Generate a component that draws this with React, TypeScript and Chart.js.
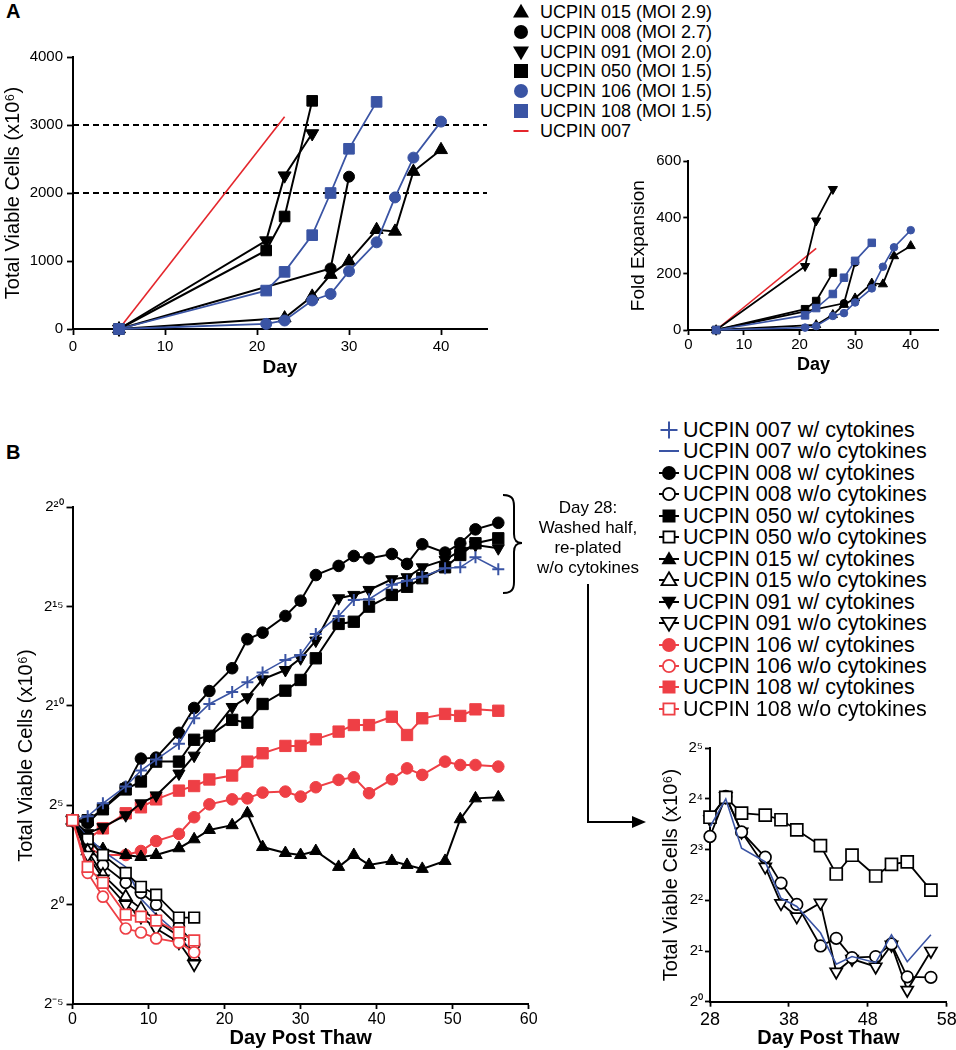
import React, { useEffect, useRef } from 'react';
import { Chart, registerables } from 'chart.js';

Chart.register(...registerables);

const FONT = '"Liberation Sans", Arial, Helvetica, sans-serif';
const INK = '#000000';
const BLUE = '#3a54a4';
const RED_A = '#e4262c';
const RED_B = '#ee3f45';

// ---------------- Panel A : total viable cells (x10^6) vs day ----------------
const aDays015 = [5, 23, 26, 28, 30, 33, 35, 37, 40];
const aCells015 = [0, 160, 480, 800, 995, 1460, 1435, 2315, 2635];
const aDays008 = [5, 28, 30];
const aCells008 = [0, 890, 2240];
const aDays091 = [5, 21, 23, 26];
const aCells091 = [0, 1300, 2255, 2875];
const aDays050 = [5, 21, 23, 26];
const aCells050 = [0, 1155, 1655, 3355];
const aDays106 = [5, 21, 23, 26, 28, 30, 33, 35, 37, 40];
const aCells106 = [0, 75, 125, 420, 515, 850, 1275, 1935, 2520, 3050];
const aDays108 = [5, 21, 23, 26, 28, 30, 33];
const aCells108 = [0, 565, 840, 1380, 2000, 2650, 3340];
const aDays007 = [5, 23];
const aCells007 = [0, 3120];
const aThresholds = [2000, 3000];
const aDayTicks = [0, 10, 20, 30, 40];
const aCellTicks = [0, 1000, 2000, 3000, 4000];

// ---------------- Panel A inset : fold expansion ----------------
const fFold015 = [0, 18, 54, 90, 113, 166, 163, 263, 299];
const fFold008 = [0, 95, 240];
const fFold091 = [0, 227, 389, 501];
const fFold050 = [0, 74, 103, 204];
const fFold106 = [0, 8.5, 14, 50, 60, 98, 148, 225, 294, 355];
const fFold108 = [0, 52, 78, 128, 186, 246, 310];
const fFold007 = [0, 290];
const foldTicks = [0, 200, 400, 600];

const aLegend = [
  'UCPIN 015 (MOI 2.9)',
  'UCPIN 008 (MOI 2.7)',
  'UCPIN 091 (MOI 2.0)',
  'UCPIN 050 (MOI 1.5)',
  'UCPIN 106 (MOI 1.5)',
  'UCPIN 108 (MOI 1.5)',
  'UCPIN 007',
];

// ---------------- Panel B : log2 of total viable cells (x10^6) ----------------
const bDays = [0, 2, 4, 7, 9, 11, 14, 16, 18, 21, 23, 25, 28, 30, 32, 35, 37, 39, 42, 44, 46, 49, 51, 53, 56];
const bLog007w = [4.25, 4.45, 5.1, 5.95, 6.75, 7.3, 8.1, 9.38, 10.1, 10.7, 11.2, 11.68, 12.32, 12.57, 13.62, 14.53, 15.34, 15.37, 16.1, 16.3, 16.5, 16.93, 16.98, 17.48, 16.88];
const bLog008w = [4.25, 4.1, 4.85, 5.9, 7.35, 7.4, 8.65, 9.9, 10.75, 11.9, 13.36, 13.69, 14.53, 15.3, 16.59, 17.05, 17.55, 17.43, 17.65, 17.15, 18.14, 17.72, 18.19, 18.89, 19.22];
const bLog050w = [4.25, 4.25, 4.8, 5.8, 6.2, 7.2, 7.2, 8.3, 8.5, 9.3, 9.16, 10.1, 10.77, 11.31, 12.4, 14.13, 14.24, 15.0, 15.59, 16.0, 16.43, 16.98, 17.6, 18.19, 18.44];
const bLog015w = [4.25, 3.2, 2.8, 2.5, 2.4, 2.5, 2.84, 3.29, 3.76, 4.0, 4.6, 2.9, 2.6, 2.5, 2.7, 1.9, 2.5, 2.0, 2.2, 2.0, 1.8, 2.2, 4.3, 5.35, 5.4];
const bLog091w = [4.25, 3.6, 3.9, 4.5, 5.1, 5.5, 6.6, 7.5, 8.5, 9.95, 10.44, 11.34, 11.81, 12.4, 13.29, 15.42, 15.59, 15.84, 16.38, 16.48, 16.98, 17.35, 17.82, 18.1, 17.94];
const bLog106w = [4.25, 2.85, 2.5, 2.5, 2.7, 3.2, 3.56, 4.4, 5.05, 5.3, 5.35, 5.64, 5.69, 5.44, 5.91, 6.28, 6.41, 5.61, 6.31, 6.86, 6.53, 7.2, 7.03, 7.03, 6.95];
const bLog108w = [4.25, 3.3, 3.84, 4.6, 4.9, 5.3, 5.74, 5.97, 6.3, 6.5, 7.2, 7.62, 7.99, 7.99, 8.32, 8.71, 9.04, 9.04, 9.46, 8.54, 9.38, 9.6, 9.5, 9.83, 9.76];

const bDaysEarly = [0, 2, 4, 7, 9, 11, 14, 16];
const bLog007wo = [4.25, 3.4, 2.7, 1.9, 0.3, -0.5, -1.5, -2.6];
const bLog008wo = [4.25, 3.0, 2.0, 1.1, 0.6, 0.0, -1.1, -2.0];
const bLog050wo = [4.25, 3.3, 2.5, 1.6, 0.9, 0.5, -0.65, -0.65];
const bLog015wo = [4.25, 2.7, 1.5, 0.4, -0.2, -0.8, -1.6, -2.6];
const bLog091wo = [4.25, 2.5, 1.3, 0.0, -0.6, -1.2, -1.9, -3.0];
const bLog106wo = [4.25, 1.6, 0.4, -1.2, -1.4, -1.7, -1.9, -2.4];
const bLog108wo = [4.25, 1.9, 1.1, -0.5, -0.6, -0.8, -1.4, -1.8];

const bDayTicks = [0, 10, 20, 30, 40, 50, 60];
const bExpTicks = [-5, 0, 5, 10, 15, 20];

// ---------------- Panel B inset : after day 28 re-plating w/o cytokines ----------------
const iDays = [28, 30, 32, 35, 37, 39, 42, 44, 46, 49, 51, 53, 56];
const iLog050wo = [3.64, 4.03, 3.72, 3.68, 3.59, 3.39, 3.08, 2.52, 2.89, 2.48, 2.71, 2.76, 2.2];
const iLog008wo = [3.26, 4.05, 3.35, 2.85, 2.34, 1.92, 1.1, 1.25, 0.87, 0.89, 1.14, 0.49, 0.48];
const iLog091wo = [3.6, 4.05, 3.35, 2.66, 1.94, 1.68, 1.95, 0.59, 0.84, 0.69, 1.12, 0.23, 1.0];
const iLog007wo = [3.45, 4.0, 3.03, 2.76, 2.04, 1.88, 1.36, 0.74, 0.89, 0.77, 1.32, 0.79, 1.32];
const iDayTicks = [28, 38, 48, 58];
const iExpTicks = [0, 1, 2, 3, 4, 5];

const bLegend = [
  'UCPIN 007 w/ cytokines',
  'UCPIN 007 w/o cytokines',
  'UCPIN 008 w/ cytokines',
  'UCPIN 008 w/o cytokines',
  'UCPIN 050 w/ cytokines',
  'UCPIN 050 w/o cytokines',
  'UCPIN 015 w/ cytokines',
  'UCPIN 015 w/o cytokines',
  'UCPIN 091 w/ cytokines',
  'UCPIN 091 w/o cytokines',
  'UCPIN 106 w/ cytokines',
  'UCPIN 106 w/o cytokines',
  'UCPIN 108 w/ cytokines',
  'UCPIN 108 w/o cytokines',
];
const noteLines = ['Day 28:', 'Washed half,', 're-plated', 'w/o cytokines'];

// ---------------- helpers ----------------
const SUP: Record<string, string> = {
  '-': '\u207B', '0': '\u2070', '1': '\u00B9', '2': '\u00B2', '3': '\u00B3', '4': '\u2074',
  '5': '\u2075', '6': '\u2076', '7': '\u2077', '8': '\u2078', '9': '\u2079',
};
const pow2 = (v: number) => '2' + String(v).split('').map((ch) => SUP[ch] || ch).join('');
const Y_TITLE = 'Total Viable Cells (x10\u2076)';

type Sty = { color: string; shape: string; r: number; open?: boolean; rot?: number; lw?: number; dash?: number[]; pbw?: number };

function ds(label: string, xs: number[], ys: number[], s: Sty) {
  const none = s.shape === 'none';
  return {
    label,
    data: xs.map((x, i) => ({ x, y: ys[i] })),
    borderColor: s.color,
    backgroundColor: s.open ? '#ffffff' : s.color,
    borderWidth: s.lw ?? 2,
    borderDash: s.dash ?? [],
    pointStyle: none ? 'circle' : s.shape,
    pointRadius: none ? 0 : s.r,
    pointRotation: s.rot ?? 0,
    pointBackgroundColor: s.open ? '#ffffff' : s.color,
    pointBorderColor: s.color,
    pointBorderWidth: s.pbw ?? (s.open ? 1.7 : 1),
    tension: 0,
    fill: false,
    clip: false,
  };
}

type AxisOpt = {
  min: number; max: number; ticks: number[]; fmt?: (v: number) => string;
  size: number; tl: number; pad: number; fit: number; horiz: boolean;
  title: string; titleSize: number; bold: boolean; titlePad: number;
};

function axis(o: AxisOpt) {
  return {
    type: 'linear',
    min: o.min,
    max: o.max,
    afterBuildTicks: (s: any) => { s.ticks = o.ticks.map((v) => ({ value: v })); },
    afterFit: (s: any) => { if (o.horiz) s.height = o.fit; else s.width = o.fit; },
    ticks: {
      color: INK,
      font: { family: FONT, size: o.size },
      padding: o.pad,
      autoSkip: false,
      maxRotation: 0,
      callback: (v: any) => (o.fmt ? o.fmt(Number(v)) : String(v)),
    },
    grid: { drawOnChartArea: false, drawTicks: true, tickLength: o.tl, tickWidth: 1.8, tickColor: INK, color: INK },
    border: { display: true, color: INK, width: 2 },
    title: {
      display: true,
      text: o.title,
      color: INK,
      font: { family: FONT, size: o.titleSize, weight: o.bold ? 'bold' : 'normal' },
      padding: o.horiz ? { top: 0, bottom: o.titlePad } : { top: o.titlePad, bottom: 0 },
    },
  };
}

function config(datasets: any[], pad: any, x: any, y: any) {
  return {
    type: 'line',
    data: { datasets },
    options: {
      responsive: false,
      animation: false,
      events: [],
      layout: { padding: pad },
      plugins: { legend: { display: false }, tooltip: { enabled: false }, title: { display: false } },
      scales: { x, y },
    },
  };
}

type Box = { left: number; top: number; width: number; height: number };

function ChartBox({ box, make }: { box: Box; make: () => any }) {
  const ref = useRef<HTMLCanvasElement>(null);
  useEffect(() => {
    const chart = new Chart(ref.current as HTMLCanvasElement, make());
    return () => chart.destroy();
  }, []);
  return (
    <div style={{ position: 'absolute', left: box.left, top: box.top, width: box.width, height: box.height }}>
      <canvas ref={ref} width={box.width} height={box.height} style={{ display: 'block', width: box.width, height: box.height }} />
    </div>
  );
}

// ---------------- chart builders ----------------
function makeA() {
  const datasets = [
    ds('UCPIN 108', aDays108, aCells108, { color: BLUE, shape: 'rect', r: 7.5, lw: 1.8 }),
    ds('UCPIN 106', aDays106, aCells106, { color: BLUE, shape: 'circle', r: 5.5, lw: 1.8 }),
    ds('UCPIN 015', aDays015, aCells015, { color: INK, shape: 'triangle', r: 7.5, lw: 2 }),
    ds('UCPIN 008', aDays008, aCells008, { color: INK, shape: 'circle', r: 5.5, lw: 2 }),
    ds('UCPIN 091', aDays091, aCells091, { color: INK, shape: 'triangle', r: 7.5, rot: 180, lw: 2 }),
    ds('UCPIN 050', aDays050, aCells050, { color: INK, shape: 'rect', r: 7.5, lw: 2 }),
    ds('UCPIN 007', aDays007, aCells007, { color: RED_A, shape: 'none', r: 0, lw: 1.6 }),
    ...aThresholds.map((t) => ds('threshold ' + t, [0, 45], [t, t], { color: INK, shape: 'none', r: 0, lw: 2, dash: [6, 4] })),
  ];
  return config(
    datasets,
    { left: 0, right: 15, top: 17, bottom: 0 },
    axis({ min: 0, max: 45, ticks: aDayTicks, size: 15, tl: 6, pad: 3, fit: 51, horiz: true, title: 'Day', titleSize: 19, bold: true, titlePad: 1 }),
    axis({ min: 0, max: 4000, ticks: aCellTicks, size: 15, tl: 6, pad: 4, fit: 73, horiz: false, title: Y_TITLE, titleSize: 20, bold: false, titlePad: 1 }),
  );
}

function makeFold() {
  const datasets = [
    ds('UCPIN 108', aDays108, fFold108, { color: BLUE, shape: 'rect', r: 5.3, lw: 1.6 }),
    ds('UCPIN 106', aDays106, fFold106, { color: BLUE, shape: 'circle', r: 3.8, lw: 1.6 }),
    ds('UCPIN 015', aDays015, fFold015, { color: INK, shape: 'triangle', r: 5.3, lw: 1.8 }),
    ds('UCPIN 008', aDays008, fFold008, { color: INK, shape: 'circle', r: 3.8, lw: 1.8 }),
    ds('UCPIN 091', aDays091, fFold091, { color: INK, shape: 'triangle', r: 5.3, rot: 180, lw: 1.8 }),
    ds('UCPIN 050', aDays050, fFold050, { color: INK, shape: 'rect', r: 5.3, lw: 1.8 }),
    ds('UCPIN 007', aDays007, fFold007, { color: RED_A, shape: 'none', r: 0, lw: 1.6 }),
  ];
  return config(
    datasets,
    { left: 0, right: 17.5, top: 11.3, bottom: 0 },
    axis({ min: 0, max: 45, ticks: aDayTicks, size: 15, tl: 5, pad: 1, fit: 60, horiz: true, title: 'Day', titleSize: 18, bold: true, titlePad: 14 }),
    axis({ min: 0, max: 600, ticks: foldTicks, size: 15, tl: 5, pad: 2, fit: 88.3, horiz: false, title: 'Fold Expansion', titleSize: 19, bold: false, titlePad: 27.6 }),
  );
}

function makeB() {
  const datasets = [
    ds('UCPIN 108 w/o cytokines', bDaysEarly, bLog108wo, { color: RED_B, shape: 'rect', r: 7.5, open: true, lw: 1.8 }),
    ds('UCPIN 106 w/o cytokines', bDaysEarly, bLog106wo, { color: RED_B, shape: 'circle', r: 5.5, open: true, lw: 1.8 }),
    ds('UCPIN 091 w/o cytokines', bDaysEarly, bLog091wo, { color: INK, shape: 'triangle', r: 7, rot: 180, open: true, lw: 1.8 }),
    ds('UCPIN 015 w/o cytokines', bDaysEarly, bLog015wo, { color: INK, shape: 'triangle', r: 7, open: true, lw: 1.8 }),
    ds('UCPIN 050 w/o cytokines', bDaysEarly, bLog050wo, { color: INK, shape: 'rect', r: 7.5, open: true, lw: 1.8 }),
    ds('UCPIN 008 w/o cytokines', bDaysEarly, bLog008wo, { color: INK, shape: 'circle', r: 5.5, open: true, lw: 1.8 }),
    ds('UCPIN 007 w/o cytokines', bDaysEarly, bLog007wo, { color: BLUE, shape: 'none', r: 0, lw: 1.6 }),
    ds('UCPIN 007 w/ cytokines', bDays, bLog007w, { color: BLUE, shape: 'cross', r: 6, lw: 1.6, pbw: 2 }),
    ds('UCPIN 008 w/ cytokines', bDays, bLog008w, { color: INK, shape: 'circle', r: 5.8, lw: 2 }),
    ds('UCPIN 050 w/ cytokines', bDays, bLog050w, { color: INK, shape: 'rect', r: 8, lw: 2 }),
    ds('UCPIN 091 w/ cytokines', bDays, bLog091w, { color: INK, shape: 'triangle', r: 7, rot: 180, lw: 2 }),
    ds('UCPIN 015 w/ cytokines', bDays, bLog015w, { color: INK, shape: 'triangle', r: 7, lw: 2 }),
    ds('UCPIN 106 w/ cytokines', bDays, bLog106w, { color: RED_B, shape: 'circle', r: 5.8, lw: 2 }),
    ds('UCPIN 108 w/ cytokines', bDays, bLog108w, { color: RED_B, shape: 'rect', r: 8, lw: 2 }),
  ];
  return config(
    datasets,
    { left: 0, right: 20.3, top: 37.3, bottom: 0 },
    axis({ min: 0, max: 60, ticks: bDayTicks, size: 16, tl: 5, pad: 1, fit: 46, horiz: true, title: 'Day Post Thaw', titleSize: 20, bold: true, titlePad: 0 }),
    axis({ min: -5, max: 20, ticks: bExpTicks, fmt: pow2, size: 15, tl: 6, pad: 3, fit: 72.5, horiz: false, title: Y_TITLE, titleSize: 20, bold: false, titlePad: 14 }),
  );
}

function makeInset() {
  const datasets = [
    ds('UCPIN 007 w/o cytokines', iDays, iLog007wo, { color: BLUE, shape: 'none', r: 0, lw: 1.6 }),
    ds('UCPIN 050 w/o cytokines', iDays, iLog050wo, { color: INK, shape: 'rect', r: 8.5, open: true, lw: 1.8 }),
    ds('UCPIN 008 w/o cytokines', iDays, iLog008wo, { color: INK, shape: 'circle', r: 5.8, open: true, lw: 1.8 }),
    ds('UCPIN 091 w/o cytokines', iDays, iLog091wo, { color: INK, shape: 'triangle', r: 7, rot: 180, open: true, lw: 1.8 }),
  ];
  return config(
    datasets,
    { left: 0, right: 29.3, top: 28.3, bottom: 0 },
    axis({ min: 28, max: 58, ticks: iDayTicks, size: 18, tl: 5, pad: 2.5, fit: 48.3, horiz: true, title: 'Day Post Thaw', titleSize: 20, bold: true, titlePad: 0 }),
    axis({ min: 0, max: 5, ticks: iExpTicks, fmt: pow2, size: 15, tl: 5, pad: 2, fit: 90, horiz: false, title: Y_TITLE, titleSize: 20, bold: false, titlePad: 39 }),
  );
}

// ---------------- legend glyphs ----------------
function Glyph(p: { shape: string; color: string; open?: boolean; size: number; stub?: number; cx: number; cy: number }) {
  const W = 30;
  const H = 24;
  const c = W / 2;
  const m = H / 2;
  const fill = p.open ? '#ffffff' : p.color;
  const sw = p.open ? 1.8 : 0;
  const s = p.size;
  let mark: any = null;
  if (p.shape === 'circle') {
    mark = <circle cx={c} cy={m} r={s / 2 - sw / 2} fill={fill} stroke={p.color} strokeWidth={sw} />;
  } else if (p.shape === 'square') {
    mark = <rect x={c - s / 2 + sw / 2} y={m - s / 2 + sw / 2} width={s - sw} height={s - sw} fill={fill} stroke={p.color} strokeWidth={sw} />;
  } else if (p.shape === 'triUp' || p.shape === 'triDown') {
    const h = s * 0.866;
    const d = p.shape === 'triUp' ? 1 : -1;
    const apex = m - d * h * 0.6;
    const base = m + d * h * 0.4;
    mark = <polygon points={`${c},${apex} ${c + s / 2},${base} ${c - s / 2},${base}`} fill={fill} stroke={p.color} strokeWidth={sw} />;
  } else if (p.shape === 'plus') {
    mark = (
      <g stroke={p.color} strokeWidth={2}>
        <line x1={c - s / 2} y1={m} x2={c + s / 2} y2={m} />
        <line x1={c} y1={m - s / 2} x2={c} y2={m + s / 2} />
      </g>
    );
  } else if (p.shape === 'line') {
    mark = <line x1={c - s / 2} y1={m} x2={c + s / 2} y2={m} stroke={p.color} strokeWidth={2} />;
  }
  return (
    <svg width={W} height={H} style={{ position: 'absolute', left: p.cx - c, top: p.cy - m, overflow: 'visible' }}>
      {p.stub ? <line x1={c - p.stub / 2} y1={m} x2={c + p.stub / 2} y2={m} stroke={p.color} strokeWidth={2} /> : null}
      {mark}
    </svg>
  );
}

const aLegendStyle = [
  { shape: 'triUp', color: INK, size: 16 },
  { shape: 'circle', color: INK, size: 14 },
  { shape: 'triDown', color: INK, size: 16 },
  { shape: 'square', color: INK, size: 14 },
  { shape: 'circle', color: BLUE, size: 14 },
  { shape: 'square', color: BLUE, size: 14 },
  { shape: 'line', color: RED_A, size: 15 },
];

const bLegendStyle = [
  { shape: 'plus', color: BLUE, size: 17 },
  { shape: 'line', color: BLUE, size: 20 },
  { shape: 'circle', color: INK, size: 14 },
  { shape: 'circle', color: INK, size: 14, open: true },
  { shape: 'square', color: INK, size: 13 },
  { shape: 'square', color: INK, size: 13, open: true },
  { shape: 'triUp', color: INK, size: 15 },
  { shape: 'triUp', color: INK, size: 15, open: true },
  { shape: 'triDown', color: INK, size: 15 },
  { shape: 'triDown', color: INK, size: 15, open: true },
  { shape: 'circle', color: RED_B, size: 14 },
  { shape: 'circle', color: RED_B, size: 14, open: true },
  { shape: 'square', color: RED_B, size: 13 },
  { shape: 'square', color: RED_B, size: 13, open: true },
];

export default function App() {
  useEffect(() => {
    Chart.defaults.font.family = FONT;
    Chart.defaults.color = INK;
  }, []);
  return (
    <div
      style={{
        position: 'absolute', left: 0, top: 0, width: 956, height: 1050, overflow: 'hidden',
        background: '#ffffff', fontFamily: FONT, color: INK,
      }}
    >
      <div style={{ position: 'absolute', left: 6, top: 0, fontSize: 20, lineHeight: '22px', fontWeight: 'bold' }}>A</div>
      <div style={{ position: 'absolute', left: 6, top: 441, fontSize: 20, lineHeight: '22px', fontWeight: 'bold' }}>B</div>

      <ChartBox box={{ left: 0, top: 40, width: 502, height: 340 }} make={makeA} />
      <ChartBox box={{ left: 600, top: 150, width: 356, height: 240 }} make={makeFold} />
      <ChartBox box={{ left: 0, top: 470, width: 549, height: 580 }} make={makeB} />
      <ChartBox box={{ left: 620, top: 720, width: 356, height: 330 }} make={makeInset} />

      {aLegend.map((t, i) => {
        const cy = 11.7 + 19.9 * i;
        const st = aLegendStyle[i];
        return (
          <React.Fragment key={'a' + i}>
            <Glyph shape={st.shape} color={st.color} size={st.size} cx={521} cy={cy} />
            <div style={{ position: 'absolute', left: 540, top: cy - 10, fontSize: 18, lineHeight: '20px', whiteSpace: 'nowrap' }}>{t}</div>
          </React.Fragment>
        );
      })}

      {bLegend.map((t, i) => {
        const cy = 430 + 21.45 * i;
        const st = bLegendStyle[i] as any;
        return (
          <React.Fragment key={'b' + i}>
            <Glyph shape={st.shape} color={st.color} size={st.size} open={st.open} stub={st.shape === 'plus' || st.shape === 'line' ? 0 : 20} cx={669} cy={cy} />
            <div style={{ position: 'absolute', left: 683, top: cy - 12, fontSize: 21.5, lineHeight: '24px', whiteSpace: 'nowrap' }}>{t}</div>
          </React.Fragment>
        );
      })}

      <div style={{ position: 'absolute', left: 528, top: 498, width: 120, textAlign: 'center', fontSize: 17, lineHeight: '20px', whiteSpace: 'nowrap' }}>
        {noteLines.map((l, i) => (
          <div key={i}>{l}</div>
        ))}
      </div>

      <svg width={956} height={1050} style={{ position: 'absolute', left: 0, top: 0, pointerEvents: 'none' }}>
        <path
          d="M503,495 C511,495 514,498 514,506 L514,534 C514,540 516,543 522,543 C516,543 514,546 514,552 L514,582 C514,590 511,593 503,593"
          fill="none" stroke={INK} strokeWidth={2}
        />
        <polyline points="588,584 588,822 634,822" fill="none" stroke={INK} strokeWidth={2} />
        <polygon points="632,816 646,822 632,828" fill={INK} />
      </svg>
    </div>
  );
}
